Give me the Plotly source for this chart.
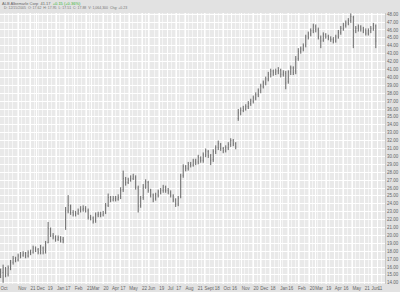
import pandas as pd
import plotly.graph_objects as go

# ---- data ----
opens = [15.0,15.3,15.8,15.1,15.9,16.6,17.0,16.9,17.3,17.5,
         17.7,17.4,17.8,17.9,18.4,18.2,17.9,18.4,18.0,19.1,
         20.8,20.0,19.8,19.5,19.7,19.5,21.0,23.1,23.7,22.9,
         22.7,22.8,23.1,23.3,23.4,23.1,22.3,22.2,21.9,22.6,
         22.7,22.6,22.9,23.8,24.8,24.5,24.7,24.6,24.9,25.8,
         27.1,26.7,27.0,27.2,27.3,26.0,23.8,24.8,26.1,26.7,
         25.7,25.1,24.7,25.1,25.5,25.7,26.1,25.7,25.4,25.0,
         24.5,24.0,24.9,27.6,28.7,28.5,29.0,28.9,29.4,29.3,
         29.8,29.5,30.2,30.6,30.1,29.6,30.6,31.1,31.5,31.0,
         30.7,31.1,31.5,32.0,31.6,34.8,35.4,35.8,36.0,36.3,
         36.7,37.0,37.4,37.8,38.3,38.9,39.3,39.8,40.4,40.8,
         40.6,40.8,40.9,40.4,40.5,39.5,40.7,41.2,40.8,42.4,
         43.3,43.6,44.1,45.1,45.5,45.9,46.4,46.0,45.0,44.7,
         45.4,45.2,45.0,44.8,44.6,45.1,45.7,46.2,46.6,46.9,
         47.2,47.6,45.9,46.2,46.4,46.1,45.9,45.6,45.9,46.2,46.5]
highs = [15.8,16.3,16.0,16.2,16.9,17.4,17.3,17.7,17.9,18.0,
         17.9,18.1,18.2,18.7,18.6,18.4,18.8,18.6,19.3,21.7,
         21.0,20.3,20.0,20.0,19.9,19.8,23.6,25.1,23.9,23.2,
         23.1,23.4,23.7,23.8,23.7,23.4,22.6,22.4,22.9,23.0,
         23.0,23.1,24.1,25.3,25.0,25.0,25.0,25.2,26.1,28.2,
         27.4,27.3,27.6,27.8,27.6,26.3,25.0,26.5,27.1,26.9,
         25.9,25.3,25.4,25.8,26.0,26.4,26.3,26.0,25.7,25.2,
         24.7,25.0,27.8,29.0,28.9,29.3,29.3,29.7,29.7,30.2,
         30.0,30.5,31.0,30.8,30.3,30.9,31.4,32.0,31.7,31.2,
         31.4,31.8,32.3,32.2,31.8,36.0,36.2,36.4,36.6,37.0,
         37.3,37.7,38.1,38.6,39.2,39.6,40.1,40.7,41.1,41.0,
         41.1,41.3,41.1,40.9,40.8,40.9,41.5,41.4,42.7,43.7,
         43.9,44.3,45.4,45.8,46.2,46.8,46.7,46.3,45.3,45.7,
         45.6,45.4,45.2,45.1,45.4,46.0,46.5,46.9,47.2,47.5,
         48.1,47.8,46.5,46.7,46.6,46.4,46.2,46.2,46.5,46.9,46.7]
lows = [14.6,14.0,14.7,14.8,15.6,16.3,16.6,16.7,17.1,17.3,
        17.1,17.2,17.5,17.7,17.9,17.6,17.6,17.6,17.7,19.0,
        19.8,19.5,19.2,19.3,19.1,19.0,20.7,22.8,22.6,22.4,
        22.4,22.6,22.9,23.0,22.9,22.0,21.9,21.5,21.6,22.3,
        22.3,22.4,22.7,23.6,24.2,24.3,24.3,24.4,24.6,25.5,
        26.3,26.5,26.8,27.0,25.8,22.9,23.5,24.5,25.9,25.4,
        24.8,24.2,24.4,24.8,25.2,25.4,25.4,25.2,24.8,24.2,
        23.6,23.7,24.7,27.3,28.1,28.2,28.6,28.7,28.9,29.0,
        29.2,29.2,29.9,29.8,28.9,29.3,30.3,30.8,30.7,30.4,
        30.5,30.8,31.2,31.3,30.9,34.5,35.2,35.6,35.8,36.0,
        36.4,36.7,37.1,37.5,38.0,38.6,39.0,39.5,40.0,40.2,
        40.3,40.4,40.0,40.1,38.5,39.2,40.3,40.3,40.4,42.1,
        43.0,43.3,43.8,44.8,45.2,45.6,45.7,44.8,43.7,44.5,
        44.9,44.7,44.5,44.3,44.4,44.9,45.4,45.9,46.3,46.6,
        46.9,43.7,45.6,45.8,45.8,45.6,45.3,45.3,45.6,45.9,43.7]
closes = [15.4,15.9,15.0,15.9,16.6,17.1,16.9,17.4,17.5,17.7,
          17.4,17.8,17.9,18.4,18.2,17.9,18.5,17.9,19.0,20.9,
          20.0,19.8,19.5,19.7,19.4,19.3,23.2,23.8,22.9,22.7,
          22.8,23.1,23.3,23.4,23.2,22.3,22.2,21.8,22.6,22.7,
          22.6,22.8,23.8,24.8,24.5,24.7,24.6,24.8,25.7,27.2,
          26.7,27.0,27.2,27.4,26.1,23.7,24.7,26.1,26.8,25.7,
          25.1,24.6,25.1,25.5,25.7,26.1,25.7,25.5,25.1,24.5,
          23.9,24.7,27.5,28.7,28.5,29.0,28.9,29.4,29.2,29.9,
          29.5,30.2,30.7,30.1,29.5,30.6,31.1,31.6,31.0,30.7,
          31.1,31.5,32.0,31.6,31.2,35.5,35.8,36.0,36.3,36.7,
          37.0,37.4,37.8,38.3,38.9,39.3,39.8,40.4,40.8,40.6,
          40.8,40.9,40.4,40.6,39.3,40.7,41.2,40.6,42.3,43.3,
          43.6,44.0,45.1,45.5,45.9,46.5,46.1,45.1,44.6,45.4,
          45.2,45.0,44.8,44.6,45.1,45.7,46.2,46.6,46.9,47.2,
          47.7,45.9,46.2,46.4,46.1,45.9,45.6,45.9,46.2,46.6,44.6]

start_date = "2005-10-03"
end_date = "2007-06-08"

tick_dates = ["2005-10-03","2005-11-01","2005-11-21","2005-12-01","2005-12-19",
              "2006-01-03","2006-01-17","2006-02-01","2006-02-21","2006-03-01","2006-03-20",
              "2006-04-03","2006-04-17","2006-05-01","2006-05-22","2006-06-01","2006-06-19",
              "2006-07-03","2006-07-17","2006-08-01","2006-08-21","2006-09-01","2006-09-18",
              "2006-10-02","2006-10-16","2006-11-01","2006-11-20","2006-12-01","2006-12-18",
              "2007-01-03","2007-01-16","2007-02-01","2007-02-20","2007-03-01","2007-03-19",
              "2007-04-02","2007-04-16","2007-05-01","2007-05-21","2007-06-01","2007-06-11"]
tick_text = ["Oct","Nov","21","Dec","19",
             "Jan","17","Feb","21","Mar","20",
             "Apr","17","May","22","Jun","19",
             "Jul","17","Aug","21","Sept","18",
             "Oct","16","Nov","20","Dec","18",
             "Jan","16","Feb","20","Mar","19",
             "Apr","16","May","21","Jun","11"]

dates = pd.date_range(start_date, end_date, periods=len(closes))

FONT = "Liberation Sans"
fig = go.Figure()
fig.add_trace(go.Ohlc(
    x=dates, open=opens, high=highs, low=lows, close=closes,
    increasing=dict(line=dict(color="#666666", width=1)),
    decreasing=dict(line=dict(color="#666666", width=1)),
    tickwidth=0.15, showlegend=False, hoverinfo="skip",
))

fig.update_layout(
    width=400, height=292,
    margin=dict(l=0, r=15, t=13, b=8),
    paper_bgcolor="#e2e2e2",
    plot_bgcolor="#e9e9e9",
    font=dict(family=FONT, size=5, color="#555555"),
    title=dict(
        text="ALB Albemarle Corp  41.17  <span style='color:#33b533'>+0.15 (+0.36%)</span>",
        x=0.005, xanchor="left", y=0.988, yanchor="middle", yref="container",
        font=dict(family=FONT, size=4, color="#666666"),
    ),
    xaxis=dict(
        range=["2005-10-02", "2007-06-23"],
        rangeslider=dict(visible=False),
        tickvals=tick_dates, ticktext=tick_text, tickangle=0,
        ticklabelposition="outside right",
        tickfont=dict(size=4.5, color="#666666"),
        showgrid=True, gridcolor="#ffffff", gridwidth=1,
        minor=dict(dtick=7 * 86400000, showgrid=True, gridcolor="#f6f6f6", gridwidth=1),
        ticks="", ticklen=0, zeroline=False, showline=False,
    ),
    yaxis=dict(
        side="right", range=[13.85, 48.15],
        dtick=1, tick0=0, tickformat=".2f",
        tickfont=dict(size=4.5, color="#666666"),
        showgrid=True, gridcolor="#ffffff", gridwidth=1,
        ticks="", zeroline=False, showline=True, linecolor="#c8c8c8", linewidth=1,
    ),
)
fig.add_annotation(
    text="D: 12/15/2005  O: 17.62  H: 17.95  L: 17.51  C: 17.88  V: 1,064,300  Chg: +0.23",
    xref="paper", yref="paper", x=0.005, y=1.004, xanchor="left", yanchor="bottom",
    showarrow=False, font=dict(family=FONT, size=3.5, color="#777777"),
)

fig.write_html("out.html")
